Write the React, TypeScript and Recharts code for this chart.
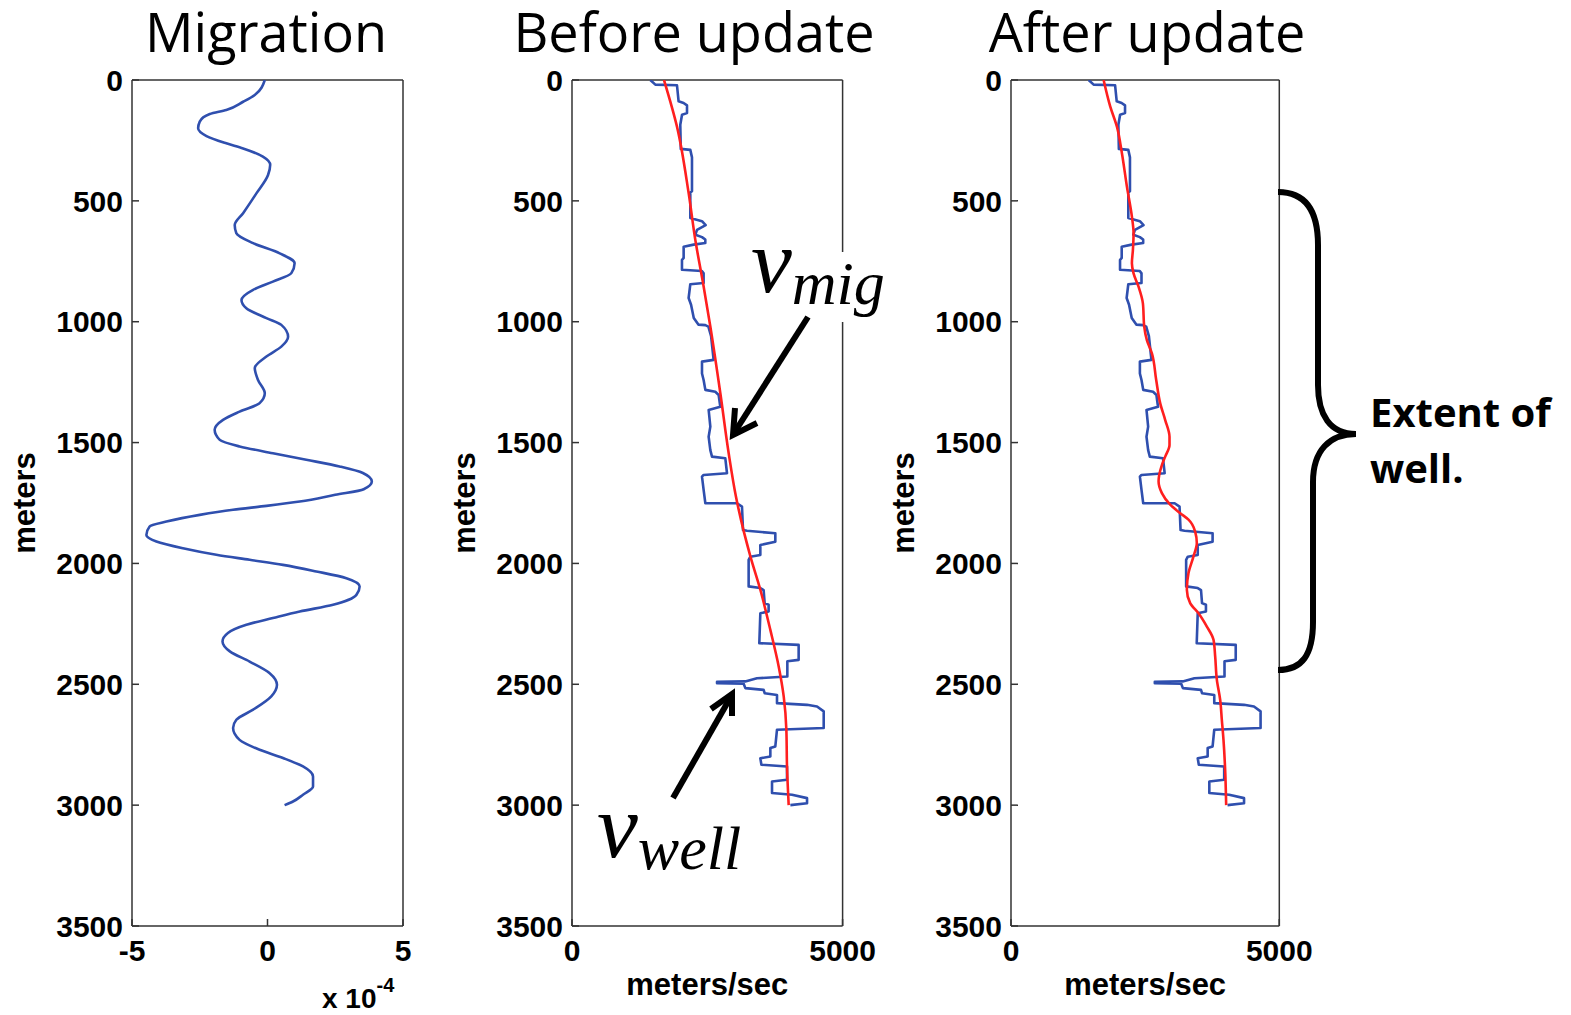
import { ScatterChart, Scatter, XAxis, YAxis } from 'recharts'

const depthTicks = [0, 500, 1000, 1500, 2000, 2500, 3000, 3500]
const migTicks = [-5, 0, 5]
const velTicks = [0, 5000]

// migration image trace (x 10^-4)
const migDepth = [0, 62, 90, 124, 141, 172, 200, 232, 262, 283, 317, 351, 393, 469, 551, 600, 634, 675, 717, 758, 799, 834, 868, 910, 944, 985, 1013, 1062, 1103, 1144, 1192, 1241, 1296, 1337, 1372, 1406, 1447, 1489, 1516, 1544, 1571, 1599, 1626, 1661, 1693, 1716, 1744, 1762, 1778, 1799, 1827, 1847, 1882, 1909, 1937, 1964, 1985, 2006, 2033, 2061, 2095, 2130, 2171, 2199, 2226, 2254, 2288, 2323, 2364, 2406, 2454, 2502, 2550, 2605, 2647, 2681, 2730, 2771, 2805, 2840, 2881, 2923, 2957, 2985, 3000]
const migAmp = [-0.1, -0.47, -0.9, -1.52, -2.13, -2.5, -2.56, -2.25, -1.52, -0.9, -0.17, 0.1, 0.02, -0.41, -0.9, -1.21, -1.15, -0.53, 0.45, 1.0, 0.88, 0.2, -0.53, -0.96, -0.78, -0.04, 0.51, 0.76, 0.51, -0.04, -0.47, -0.35, -0.1, -0.29, -1.03, -1.64, -1.95, -1.76, -1.03, 0.2, 1.43, 2.66, 3.52, 3.85, 3.55, 2.5, 1.19, -0.04, -1.27, -2.5, -3.73, -4.35, -4.47, -4.1, -3.12, -1.89, -0.66, 0.57, 1.8, 2.91, 3.4, 3.28, 2.42, 1.19, 0.2, -0.78, -1.46, -1.66, -1.39, -0.66, 0.08, 0.35, 0.14, -0.53, -1.15, -1.27, -1.03, -0.29, 0.57, 1.31, 1.68, 1.68, 1.31, 0.94, 0.63]

// well log velocity (step curve)
const wellDepth = [0, 19, 22, 88, 95, 105, 137, 144, 185, 285, 289, 320, 460, 465, 571, 584, 600, 620, 640, 650, 660, 674, 681, 690, 736, 745, 785, 790, 800, 840, 845, 902, 930, 985, 1012, 1014, 1020, 1060, 1158, 1165, 1214, 1241, 1282, 1290, 1303, 1352, 1365, 1434, 1476, 1531, 1558, 1565, 1627, 1634, 1641, 1696, 1751, 1751, 1765, 1862, 1865, 1875, 1910, 1924, 1965, 1972, 1985, 2095, 2102, 2110, 2164, 2171, 2199, 2206, 2330, 2337, 2399, 2405, 2468, 2475, 2488, 2490, 2496, 2498, 2516, 2523, 2537, 2544, 2578, 2585, 2592, 2612, 2681, 2688, 2757, 2764, 2799, 2806, 2833, 2840, 2895, 2902, 2950, 2957, 2971, 2992, 3000]
const wellVel = [1447, 1540, 1940, 1970, 2062, 2125, 2125, 2033, 2001, 2010, 2186, 2217, 2217, 2186, 2186, 2402, 2470, 2310, 2280, 2402, 2463, 2463, 2248, 2063, 2063, 2032, 2032, 2400, 2432, 2432, 2186, 2155, 2200, 2250, 2335, 2464, 2520, 2570, 2617, 2402, 2402, 2432, 2464, 2648, 2710, 2740, 2525, 2556, 2525, 2556, 2587, 2833, 2864, 2432, 2402, 2432, 2464, 3049, 3141, 3160, 3234, 3757, 3757, 3480, 3480, 3295, 3264, 3264, 3480, 3541, 3560, 3633, 3633, 3480, 3461, 4188, 4188, 3979, 3979, 3418, 3200, 2680, 2680, 3172, 3203, 3541, 3560, 3788, 3788, 4343, 4528, 4651, 4651, 3788, 3757, 3665, 3665, 3480, 3500, 3973, 3973, 3696, 3696, 4066, 4343, 4343, 4035]

// migration velocity before update
const beforeDepth = [0, 193, 469, 662, 855, 1020, 1296, 1544, 1724, 1971, 2109, 2275, 2426, 2550, 2688, 2840, 3000]
const beforeVel = [1700, 1940, 2156, 2279, 2433, 2556, 2741, 2895, 3030, 3296, 3480, 3665, 3819, 3912, 3961, 3973, 4004]

// migration velocity after update
const afterDepth = [0, 110, 193, 303, 441, 565, 634, 703, 758, 800, 855, 924, 1020, 1076, 1131, 1241, 1338, 1407, 1476, 1510, 1558, 1593, 1634, 1660, 1709, 1757, 1792, 1819, 1868, 1916, 1971, 2040, 2109, 2164, 2206, 2261, 2316, 2385, 2481, 2564, 2647, 2730, 2854, 3000]
const afterVel = [1726, 1850, 1974, 2067, 2160, 2253, 2284, 2272, 2253, 2284, 2377, 2458, 2483, 2532, 2626, 2706, 2781, 2874, 2954, 2954, 2874, 2812, 2762, 2750, 2812, 2967, 3153, 3308, 3432, 3463, 3401, 3308, 3277, 3339, 3494, 3650, 3774, 3805, 3836, 3898, 3929, 3960, 3991, 4010]

const BLUE = '#2f4fae'
const RED = '#ff1f1f'
const AXIS = '#333'
const SANS = '"Liberation Sans", Arial, sans-serif'
const TITLE = '"Open Sans", sans-serif'
const MATH = '"Liberation Serif", serif'

const zip = (d: number[], v: number[]) => d.map((dd, i) => ({ d: dd, v: v[i] }))

const EmptyShape = () => <g />

type Series = { data: { d: number; v: number }[]; color: string; smooth?: boolean }

function Panel({ left, right, xDomain, xTicks, xLabel, series }: {
  left: number; right: number; xDomain: number[]; xTicks: number[]; xLabel?: string; series: Series[]
}) {
  const width = right - left + 200
  const tickStyle = { fill: '#000', fontSize: 30, fontWeight: 700, fontFamily: SANS }
  const labelStyle = { fill: '#000', fontSize: 31, fontWeight: 700, fontFamily: SANS }
  return (
    <div style={{ position: 'absolute', left: left - 140, top: 0 }}>
      <ScatterChart width={width} height={1015} margin={{ top: 79, right: 59, bottom: 0, left: 0 }}>
        <XAxis
          type="number" dataKey="v" domain={xDomain} ticks={xTicks} interval={0} allowDataOverflow
          height={89} tickSize={-7} tickMargin={21} tick={tickStyle}
          axisLine={{ stroke: AXIS, strokeWidth: 1.5 }} tickLine={{ stroke: AXIS, strokeWidth: 1.5 }}
          label={xLabel ? { value: xLabel, position: 'insideBottom', offset: 20, style: labelStyle } : undefined}
        />
        <XAxis
          xAxisId="top" orientation="top" type="number" domain={xDomain} ticks={xTicks} interval={0} allowDataOverflow
          height={1} tickSize={-7} tick={false}
          axisLine={{ stroke: AXIS, strokeWidth: 1.5 }} tickLine={{ stroke: AXIS, strokeWidth: 1.5 }}
        />
        <YAxis
          type="number" dataKey="d" domain={[0, 3500]} ticks={depthTicks} interval={0} reversed allowDataOverflow
          width={140} tickSize={-7} tickMargin={16} tick={tickStyle}
          axisLine={{ stroke: AXIS, strokeWidth: 1.5 }} tickLine={{ stroke: AXIS, strokeWidth: 1.5 }}
          label={{ value: 'meters', angle: -90, position: 'insideLeft', offset: 32, textAnchor: 'middle', style: { ...labelStyle, textAnchor: 'middle' } }}
        />
        <YAxis
          yAxisId="right" orientation="right" type="number" domain={[0, 3500]} ticks={depthTicks} interval={0} reversed allowDataOverflow
          width={1} tickSize={-7} tick={false}
          axisLine={{ stroke: AXIS, strokeWidth: 1.5 }} tickLine={{ stroke: AXIS, strokeWidth: 1.5 }}
        />
        {series.map((s, i) => (
          <Scatter
            key={i} data={s.data} shape={EmptyShape} fill={s.color}
            line={{ stroke: s.color, strokeWidth: 2.6, strokeLinejoin: 'round' }}
            lineJointType={s.smooth ? 'monotoneY' : 'linear'}
            isAnimationActive={false}
          />
        ))}
      </ScatterChart>
    </div>
  )
}

export default function App() {
  const well = zip(wellDepth, wellVel)
  return (
    <div style={{ position: 'absolute', left: 0, top: 0, width: 1571, height: 1015, background: '#fff', fontFamily: SANS, overflow: 'hidden' }}>
      <Panel left={132.3} right={403.3} xDomain={[-5, 5]} xTicks={migTicks}
        series={[{ data: zip(migDepth, migAmp), color: BLUE, smooth: true }]} />
      <Panel left={571.7} right={842.3} xDomain={[0, 5000]} xTicks={velTicks} xLabel="meters/sec"
        series={[{ data: well, color: BLUE }, { data: zip(beforeDepth, beforeVel), color: RED, smooth: true }]} />
      <Panel left={1010.7} right={1279} xDomain={[0, 5000]} xTicks={velTicks} xLabel="meters/sec"
        series={[{ data: well, color: BLUE }, { data: zip(afterDepth, afterVel), color: RED, smooth: true }]} />

      <svg width={1571} height={1015} style={{ position: 'absolute', left: 0, top: 0, pointerEvents: 'none' }}>
        <rect x={0} y={0} width={1571} height={71} fill="#fff" />
        <g fontFamily={TITLE} fontSize={54} fill="#000" textAnchor="middle">
          <text x={266} y={52}>Migration</text>
          <text x={694} y={52}>Before update</text>
          <text x={1147} y={52}>After update</text>
        </g>

        <text x={322} y={1008} fontFamily={SANS} fontWeight={700} fontSize={28} fill="#000">
          x 10<tspan dy={-16} fontSize={20}>-4</tspan>
        </text>

        <rect x={745} y={252} width={152} height={70} fill="#fff" />
        <text x={751} y={292} fontFamily={MATH} fontStyle="italic" fontSize={92} fill="#000">
          v<tspan fontSize={62} dy={12}>mig</tspan>
        </text>
        <text x={597} y={857} fontFamily={MATH} fontStyle="italic" fontSize={92} fill="#000">
          v<tspan fontSize={62} dy={12}>well</tspan>
        </text>

        <g stroke="#000" strokeWidth={6} fill="none">
          <line x1={808} y1={317} x2={736} y2={430} />
          <polyline points="735,408 733,435 757,423" />
          <line x1={673} y1={798} x2={729} y2={700} />
          <polyline points="711,709 732,694 732,716" />
          <path d="M 1278 192 C 1305 192, 1318 210, 1318 245 L 1318 385 C 1318 415, 1330 434, 1356 434 C 1330 434, 1313 450, 1313 482 L 1313 622 C 1313 655, 1302 670, 1278 670" />
        </g>

        <g fontFamily={TITLE} fontWeight={700} fontSize={40} fill="#000">
          <text x={1370} y={427}>Extent of</text>
          <text x={1370} y={483}>well.</text>
        </g>
      </svg>
    </div>
  )
}
